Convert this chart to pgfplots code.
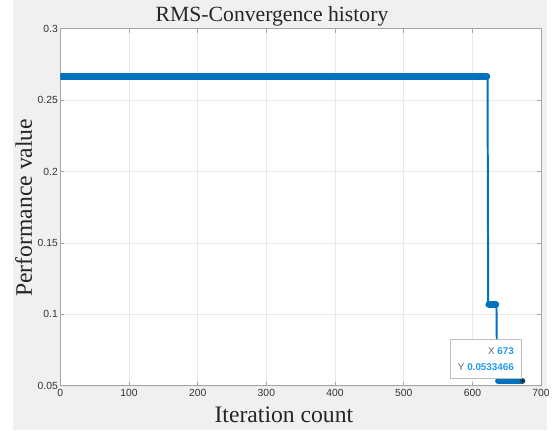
\documentclass[border=0pt]{standalone}
\usepackage{fontspec}
\setmainfont{Liberation Serif}
\newfontfamily\ticksans{Liberation Sans}
\usepackage{pgfplots}
\pgfplotsset{compat=1.18}
\usetikzlibrary{backgrounds}
\definecolor{mblue}{HTML}{0072BD}
\definecolor{tipblue}{HTML}{1E9BF0}
\definecolor{figgray}{HTML}{F0F0F0}
\begin{document}
\begin{tikzpicture}
\begin{axis}[
  scale only axis, width=486bp, height=361bp,
  xmin=0, xmax=700, ymin=0.05, ymax=0.3,
  xtick={0,100,...,700}, ytick={0.05,0.1,0.15,0.2,0.25,0.3},
  /pgf/number format/assume math mode=true,
  tick label style={font=\ticksans\fontsize{10.5}{12}\selectfont, text=black!80},
  yticklabel style={/pgf/number format/fixed, /pgf/number format/precision=2, xshift=1bp},
  scaled y ticks=false,
  grid=major, major grid style={gray!18, line width=0.5pt},
  axis line style={gray!70, line width=0.6pt},
  tick style={gray!70, line width=0.6pt},
  tick align=inside, major tick length=4bp,
  axis background/.style={fill=white},
  clip=true,
  unbounded coords=jump,
]
\addplot[mblue, line width=2bp] coordinates {
 (0,0.2667) (622,0.2667) (623,0.1070) (635,0.1070) (636,0.0533466) (673,0.0533466)
};
\addplot[mblue, line width=7bp, line cap=round] coordinates {
 (1,0.2667) (621,0.2667) (nan,nan) (624,0.1070) (634,0.1070) (nan,nan) (638,0.0533466) (671,0.0533466)
};
\addplot[only marks, mark=*, mark size=2.5bp, mark options={fill=mblue, draw=black!80, line width=0.6pt}] coordinates {(673,0.0533466)};
\addplot[only marks, mark=*, mark size=1bp, black] coordinates {(673,0.0533466)};
\end{axis}
% datatip box
\node[draw=gray!50, fill=white, line width=0.6pt, inner sep=0pt, minimum width=72bp, minimum height=40bp, anchor=south west] at (394bp,7bp) {};
\node[anchor=east, font=\ticksans\fontsize{10}{12}\selectfont] at (462bp,35bp) {\textcolor{black!60}{X} \textcolor{tipblue}{\bfseries 673}};
\node[anchor=east, font=\ticksans\fontsize{10}{12}\selectfont] at (462bp,19bp) {\textcolor{black!60}{Y} \textcolor{tipblue}{\bfseries 0.0533466}};
% titles
\node[anchor=base, font=\fontsize{22}{26}\selectfont, text=black!85] at (214bp,368bp) {RMS-Convergence history};
\node[anchor=base, font=\fontsize{24}{28}\selectfont, text=black!85] at (226bp,-37bp) {Iteration count};
\node[anchor=center, rotate=90, font=\fontsize{24}{28}\selectfont, text=black!85] at (-37bp,180bp) {Performance value};
\begin{scope}[on background layer]
\fill[white] (-61bp,-45bp) rectangle (492bp,390bp);
\fill[figgray] (-48bp,-45bp) rectangle (492bp,390bp);
\end{scope}
\path[use as bounding box] (-61bp,-45bp) rectangle (492bp,390bp);
\end{tikzpicture}
\end{document}
